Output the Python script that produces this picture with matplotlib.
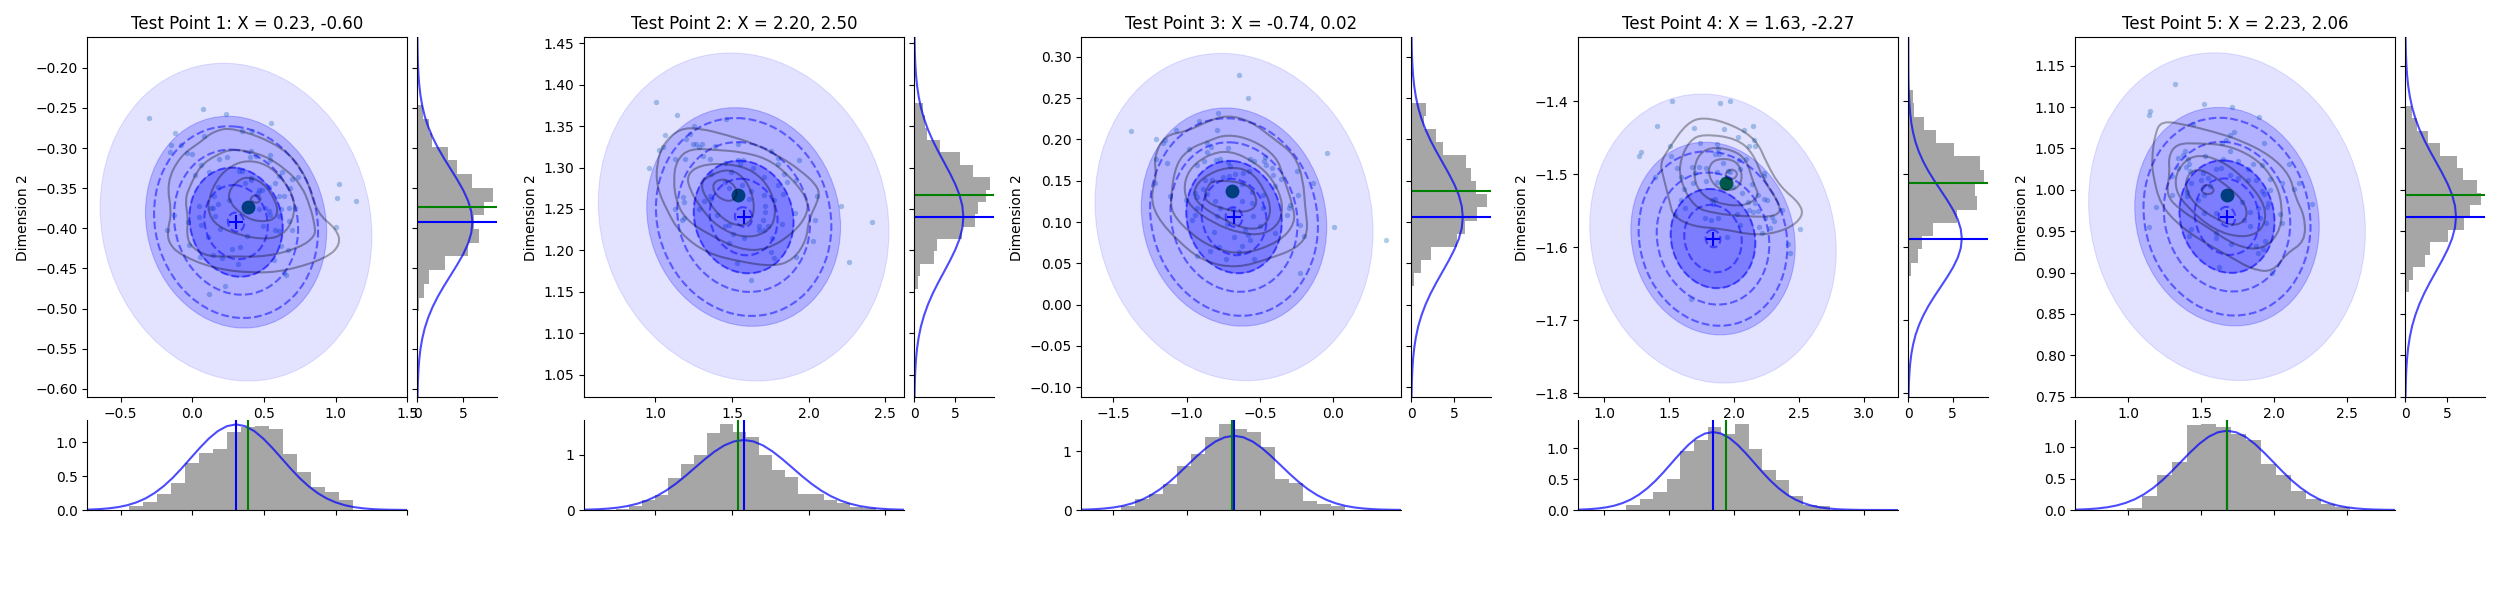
import numpy as np
import matplotlib
matplotlib.use("Agg")
import matplotlib.pyplot as plt
from matplotlib.patches import Ellipse, PathPatch
from matplotlib.path import Path

titles = ["Test Point 1: X = 0.23, -0.60", "Test Point 2: X = 2.20, 2.50",
          "Test Point 3: X = -0.74, 0.02", "Test Point 4: X = 1.63, -2.27",
          "Test Point 5: X = 2.23, 2.06"]

# predicted mean and true value per panel
pred_x = [0.305, 1.576, -0.677, 1.836, 1.676]
pred_y = [-0.3923, 1.2403, 0.106, -1.588, 0.9675]
true_x = [0.391, 1.541, -0.693, 1.933, 1.6735]
true_y = [-0.3732, 1.2665, 0.137, -1.5119, 0.9933]

# spread
sigma_x = 0.316
sigma_y = 0.066
corr = -0.09
filled_levels = [3, 2, 1.03]
filled_alpha = [0.11, 0.22, 0.29]
dashed_levels = [0.18, 0.70, 1.03, 1.37, 1.81]

# axis limits per panel
main_xlim = [(-0.7326, 1.5), (0.537, 2.624), (-1.718, 0.4636), (0.80, 3.2615), (0.637, 2.829)]
main_ylim = [(-0.6106, -0.162), (1.0226, 1.4572), (-0.1121, 0.3234), (-1.8055, -1.3123), (0.7492, 1.1842)]
side_xmax = [8.76, 9.84, 9.375, 9.02, 9.52]
under_ymax = [1.33, 1.627, 1.534, 1.46, 1.436]

# density curve: peak per panel and the bell profile
peak_under = [1.265, 1.265, 1.265, 1.265, 1.265]
peak_side = [6.03, 6.03, 6.03, 6.03, 6.03]
bell_z = [0, .2, .4, .6, .8, 1, 1.2, 1.4, 1.6, 1.8, 2, 2.2, 2.4, 2.6, 2.8, 3, 3.2, 3.4, 3.6, 3.8, 4, 4.5, 5.5]
bell_h = [1, .980, .923, .835, .726, .607, .487, .375, .278, .198, .135, .089, .056, .034, .020, .011,
          .006, .003, .0015, .0007, .0003, .00004, 0]

# histogram under each main panel: first edge, bar width, heights
under_start = [-0.442, 0.7435, -1.4477, 1.1667, 0.991]
under_width = [0.0977, 0.0848, 0.0955, 0.1048, 0.102]
under_h_1 = [.06, .12, .235, .40, .695, .84, .90, 1.15, 1.225, 1.24, 1.197, .83, .56, .34, .265, .148]
under_h_2 = [.015, .07, .18, .27, .58, .83, .99, 1.39, 1.55, 1.41, 1.32, .99, .72, .60, .29, .29, .18, .13, .06, .03]
under_h_3 = [.07, .19, .27, .44, .75, .955, 1.244, 1.466, 1.38, 1.33, 1.074, .53, .46, .153, .10, .07]
under_h_4 = [.08, .18, .29, .50, .957, 1.135, 1.346, 1.232, 1.395, .99, .65, .486, .227, .08, .065]
under_h_5 = [.03, .22, .56, .766, 1.356, 1.372, 1.324, 1.213, 1.117, .734, .56, .303, .176, .096, .05]
under_h = [under_h_1, under_h_2, under_h_3, under_h_4, under_h_5]

# histogram beside each main panel: top edge, bar height in y, lengths listed top to bottom
side_top = [-0.2469, 1.378, 0.244, -1.3845, 1.1013]
side_width = [0.0171, 0.01494, 0.0158, 0.0182, 0.015]
side_h_1 = [.6, 1.24, 1.64, 3.4, 4.3, 5.95, 8.25, 7.26, 6.2, 6.8, 5.5, 3.0, 1.3, .7, .2]
side_h_2 = [1.02, 1.27, 1.5, 3.1, 5.57, 7.17, 9.26, 8.77, 7.79, 7.42, 5.9, 2.75, 2.38, .66, .41, .12]
side_h_3 = [1.68, 1.45, 2.85, 3.67, 6.37, 6.95, 7.54, 8.83, 7.66, 6.25, 5.31, 2.27, 1.09, .27]
side_h_4 = [.49, .64, 1.73, 3.08, 5.11, 8.05, 8.5, 7.48, 7.7, 5.45, 2.74, 1.5, 1.05, .26, 0, .11]
side_h_5 = [.75, 1.35, 2.66, 4.09, 6.11, 6.83, 8.49, 8.97, 7.66, 6.94, 5.04, 2.9, 2.3, .87, .4]
side_h = [side_h_1, side_h_2, side_h_3, side_h_4, side_h_5]

points_1 = [(-.30, -.2623), (.077, -.2511), (.237, -.2573), (.551, -.2685), (-.119, -.281), (.079, -.2847),
            (.344, -.2793), (.419, -.2793), (-.147, -.296), (-.077, -.2964), (-.153, -.3047), (-.035, -.3059),
            (0, -.3072), (.184, -.313), (.24, -.311), (.407, -.3034), (.444, -.31), (.402, -.311), (.544, -.3084),
            (.542, -.3146), (.063, -.3209), (.021, -.3333), (.119, -.33), (.323, -.3283), (.344, -.3288),
            (.623, -.3296), (.607, -.3342), (.698, -.3383), (.735, -.3358), (.412, -.3375), (.412, -.3396),
            (.579, -.3433), (.37, -.3441), (.179, -.3479), (.467, -.3524), (.537, -.3483), (.681, -.35),
            (1.026, -.3445), (1.012, -.362), (1.144, -.3657), (.253, -.3645), (.46, -.3558), (.484, -.3524),
            (.607, -.36), (.642, -.36), (.151, -.36), (.181, -.3695), (.049, -.372), (.128, -.3745), (.147, -.3745),
            (.509, -.3745), (.467, -.3757), (.533, -.379), (.616, -.3757), (.677, -.3745), (.714, -.3745),
            (-.13, -.384), (.049, -.3857), (.16, -.3844), (.542, -.3828), (.607, -.3848), (.677, -.3907),
            (-.033, -.3919), (.063, -.3956), (.495, -.3965), (-.174, -.4019), (.193, -.4006), (.579, -.4019),
            (.607, -.4031), (.698, -.4019), (1.005, -.3985), (.112, -.4106), (.384, -.4094), (-.021, -.4206),
            (.335, -.4231), (.279, -.4255), (.621, -.4218), (.67, -.4268), (.147, -.433), (.056, -.4355),
            (.209, -.4368), (.572, -.4392), (.321, -.4442), (.656, -.4579), (.64, -.4555), (.23, -.4717), (.119, -.4816)]
points_2 = [(1.007, 1.379), (1.143, 1.364), (1.463, 1.359), (1.254, 1.35), (1.228, 1.340), (1.065, 1.339),
            (1.202, 1.334), (1.248, 1.329), (1.267, 1.328), (1.307, 1.329), (1.287, 1.325), (1.391, 1.326),
            (1.541, 1.329), (1.052, 1.325), (1.026, 1.321), (1.757, 1.320), (1.313, 1.314), (1.13, 1.31),
            (1.196, 1.31), (1.359, 1.31), (1.802, 1.3116), (1.939, 1.309), (.961, 1.299), (1.457, 1.306),
            (1.541, 1.309), (1.574, 1.309), (1.554, 1.304), (1.802, 1.304), (1.841, 1.292), (1.639, 1.299),
            (1.496, 1.295), (1.365, 1.292), (1.92, 1.285), (1.861, 1.282), (1.711, 1.289), (1.457, 1.282),
            (1.802, 1.2786), (1.483, 1.275), (1.567, 1.2786), (1.626, 1.2713), (1.835, 1.2677), (1.711, 1.2665),
            (2.057, 1.2653), (1.183, 1.265), (1.189, 1.259), (1.359, 1.2653), (1.361, 1.2617), (1.774, 1.2613),
            (1.613, 1.2617), (2.213, 1.2532), (1.13, 1.2496), (1.287, 1.2496), (1.717, 1.2532), (1.717, 1.246),
            (1.913, 1.2448), (1.32, 1.2593), (1.176, 1.2367), (1.189, 1.2387), (1.4, 1.2424), (1.704, 1.2363),
            (2.043, 1.2363), (2.415, 1.2339), (1.678, 1.2291), (1.457, 1.2291), (1.483, 1.2303), (1.737, 1.2291),
            (1.828, 1.2315), (1.678, 1.2242), (1.711, 1.2242), (1.509, 1.2194), (1.58, 1.2146), (1.763, 1.2146),
            (2.03, 1.211), (1.483, 1.2086), (1.757, 1.1977), (1.776, 1.1904), (1.92, 1.1917), (1.535, 1.1844),
            (2.265, 1.1856), (1.626, 1.1639)]
points_3 = [(-.641, .2774), (-.58, .2496), (-.784, .2315), (-1.377, .2097), (-.914, .2218), (-1.07, .2109),
            (-.791, .2109), (-1.207, .2), (-1.145, .1988), (-1.159, .1952), (-.859, .1952), (-.832, .1903),
            (-.982, .1879), (-.716, .1891), (-.859, .1843), (-.041, .1831), (-.464, .1782), (-1.207, .1758),
            (-1.132, .171), (-.798, .1746), (-.77, .1758), (-.927, .1685), (-.88, .1734), (-.716, .1722),
            (-.702, .1673), (-.566, .1758), (-.539, .1734), (-.47, .1734), (-.457, .1685), (-.416, .1649),
            (-.245, .1613), (-.409, .1565), (-.614, .1589), (-.573, .1613), (-.668, .1577), (-.75, .154),
            (-.709, .1552), (-.355, .1516), (-.873, .1504), (-.825, .1504), (-.62, .1456), (-1.214, .1468),
            (-.136, .1468), (-.395, .1431), (-.886, .1395), (-.552, .1359), (-.239, .1323), (-1.111, .1311),
            (-.941, .1347), (-.927, .1298), (-.859, .1335), (-.477, .1323), (-1.002, .1262), (-.805, .125),
            (-.62, .125), (-.552, .1226), (-.293, .1202), (-.3, .1165), (-.927, .1165), (-.77, .1165),
            (-.682, .1153), (-.477, .1165), (-.941, .1081), (-.791, .1069), (-.545, .1069), (-.314, .1081),
            (-.961, .102), (-.723, .0972), (-.498, .0948), (-.225, .096), (.007, .0935), (-.6, .0899),
            (-.811, .0875), (-.579, .0839), (-.395, .0863), (-.198, .0827), (-.675, .0815), (-.566, .0778),
            (.361, .0778), (-.62, .0706), (-.777, .0694), (-.839, .0645), (-.641, .0633), (-.927, .0585),
            (-.73, .0548), (-.539, .0548), (-.225, .0379)]
points_4 = [(1.523, -1.4), (1.892, -1.4027), (1.969, -1.4), (1.408, -1.4342), (1.692, -1.437), (1.923, -1.4384),
            (2.077, -1.4397), (2.146, -1.4342), (2.031, -1.4493), (2.154, -1.4534), (1.738, -1.4575), (1.869, -1.4589),
            (1.508, -1.4616), (2.115, -1.4616), (2.162, -1.4616), (1.877, -1.4658), (1.285, -1.4699), (1.269, -1.4753),
            (1.515, -1.4753), (1.854, -1.4726), (1.885, -1.4726), (1.915, -1.4849), (2.038, -1.4808), (2.092, -1.4795),
            (1.562, -1.4918), (1.677, -1.4904), (1.731, -1.4904), (1.785, -1.4918), (2.046, -1.4932), (1.869, -1.4973),
            (1.954, -1.4959), (1.969, -1.4973), (1.697, -1.4986), (2.231, -1.4986), (2.231, -1.5027), (1.392, -1.5041),
            (1.592, -1.5041), (1.785, -1.5096), (1.685, -1.5123), (1.869, -1.511), (1.954, -1.5123), (1.992, -1.5169),
            (2.138, -1.5137), (1.615, -1.5205), (2.062, -1.526), (2.185, -1.5288), (2.231, -1.5342), (2.254, -1.5356),
            (1.831, -1.5356), (1.854, -1.5342), (1.592, -1.5356), (2.108, -1.5384), (2.162, -1.5397), (1.623, -1.5466),
            (1.838, -1.5411), (2.115, -1.5493), (2.146, -1.5521), (2.185, -1.5507), (2.369, -1.5493), (1.546, -1.5562),
            (2.023, -1.5548), (1.777, -1.5603), (1.823, -1.563), (1.877, -1.5603), (2.238, -1.5603), (2.292, -1.5589),
            (2.308, -1.5644), (2.046, -1.5699), (2.192, -1.5726), (2.277, -1.574), (2.215, -1.5808), (2.508, -1.5753),
            (1.946, -1.5863), (2.415, -1.5959), (2.431, -1.6082), (1.669, -1.6712)]
points_5 = [(1.322, 1.1274), (1.521, 1.1033), (1.712, 1.0996), (1.897, 1.0876), (1.151, 1.0948), (1.144, 1.09),
            (1.445, 1.0791), (1.726, 1.0694), (1.699, 1.0658), (1.671, 1.0598), (1.644, 1.0561), (1.932, 1.0561),
            (1.39, 1.0465), (1.699, 1.0465), (1.377, 1.0416), (1.342, 1.038), (1.527, 1.0404), (1.411, 1.0368),
            (1.418, 1.0308), (1.397, 1.0271), (1.651, 1.0368), (1.753, 1.0344), (1.856, 1.0308), (1.918, 1.0296),
            (2.103, 1.0308), (1.342, 1.0259), (1.425, 1.0223), (1.603, 1.0247), (1.637, 1.0259), (1.822, 1.0247),
            (1.514, 1.0199), (1.548, 1.0138), (1.299, 1.0163), (1.699, 1.0175), (1.753, 1.0138), (1.822, 1.0114),
            (1.877, 1.0114), (1.973, 1.0126), (2.055, 1.0078), (2.171, 1.0078), (1.432, 1.0078), (1.5, 1.0114),
            (1.562, 1.0042), (2.137, 1.0006), (1.918, .9981), (1.973, .9993), (1.404, .9969), (1.301, .9933),
            (1.521, .9933), (1.404, .9921), (1.932, .9945), (1.959, .9836), (1.781, .9848), (2.26, .9824),
            (1.192, .9788), (1.89, .9776), (1.952, .9788), (1.479, .9873), (1.836, .9728), (1.521, .9716),
            (1.603, .9716), (1.904, .9655), (2.041, .9703), (1.79, .9631), (2.055, .9595), (1.945, .9595),
            (1.836, .9558), (1.144, .9546), (1.432, .9522), (1.603, .9474), (1.603, .9413), (1.418, .9438),
            (1.938, .9377), (1.705, .9341), (1.877, .9317), (1.925, .928), (1.89, .9232), (1.623, .9063), (1.986, .899)]
points = [points_1, points_2, points_3, points_4, points_5]

contours_1 = [
    [(.286, -.274), (.635, -.298), (.798, -.335), (.867, -.381), (1.007, -.401), (1.035, -.420), (.937, -.437),
     (.658, -.453), (.426, -.456), (.147, -.450), (-.086, -.433), (-.167, -.418), (-.172, -.401), (-.144, -.381),
     (-.179, -.343), (-.086, -.310), (.053, -.293), (.147, -.279)],
    [(.286, -.3005), (.495, -.308), (.658, -.327), (.763, -.347), (.821, -.372), (.856, -.397), (.856, -.410),
     (.751, -.424), (.519, -.4355), (.263, -.435), (.10, -.435), (-.016, -.422), (-.04, -.406), (-.028, -.389),
     (-.051, -.364), (-.016, -.347), (.053, -.3225), (.17, -.308)],
    [(.379, -.315), (.519, -.320), (.635, -.339), (.716, -.364), (.705, -.389), (.635, -.408), (.519, -.414),
     (.333, -.409), (.17, -.397), (.112, -.381), (.112, -.364), (.17, -.339), (.263, -.3225)],
    [(.379, -.335), (.495, -.343), (.577, -.364), (.60, -.381), (.553, -.391), (.426, -.391), (.333, -.381),
     (.263, -.368), (.251, -.356), (.298, -.343)],
    [(.402, -.363), (.437, -.358), (.484, -.362), (.46, -.369), (.414, -.3666)],
]
contours_2 = [
    [(1.161, 1.3474), (1.291, 1.3474), (1.465, 1.3393), (1.639, 1.3293), (1.813, 1.3132), (1.943, 1.2971),
     (2.052, 1.279), (2.074, 1.2649), (1.998, 1.2367), (1.987, 1.2126), (1.9, 1.1884), (1.77, 1.1804),
     (1.552, 1.1864), (1.335, 1.1965), (1.161, 1.2206), (1.074, 1.2488), (1.009, 1.277), (1.009, 1.3051), (1.052, 1.3293)],
    [(1.226, 1.3232), (1.4, 1.3212), (1.552, 1.3192), (1.726, 1.3112), (1.857, 1.2931), (1.987, 1.2649),
     (1.998, 1.2448), (1.9, 1.2206), (1.726, 1.2005), (1.552, 1.2005), (1.335, 1.2206), (1.204, 1.2367),
     (1.139, 1.2568), (1.117, 1.285), (1.139, 1.3092)],
    [(1.291, 1.3031), (1.465, 1.3051), (1.639, 1.2971), (1.759, 1.2729), (1.791, 1.2407), (1.726, 1.2206),
     (1.574, 1.2146), (1.4, 1.2287), (1.291, 1.2528), (1.226, 1.2729), (1.204, 1.291)],
    [(1.357, 1.291), (1.487, 1.2991), (1.596, 1.285), (1.65, 1.2568), (1.628, 1.2347), (1.552, 1.2287),
     (1.443, 1.2367), (1.335, 1.2609), (1.291, 1.281)],
    [(1.378, 1.283), (1.465, 1.287), (1.541, 1.2729), (1.509, 1.2589), (1.433, 1.2609), (1.378, 1.2709)],
]
contours_3 = [
    [(-.727, .2294), (-.568, .2226), (-.409, .2012), (-.261, .181), (-.205, .1508), (-.193, .1185), (-.17, .0863),
     (-.25, .0681), (-.432, .056), (-.659, .044), (-.886, .052), (-1.068, .0782), (-1.205, .1065), (-1.245, .1306),
     (-1.205, .1548), (-1.223, .179), (-1.148, .2052), (-1, .2093), (-.864, .2214)],
    [(-.727, .2065), (-.545, .1992), (-.386, .179), (-.341, .1548), (-.273, .1185), (-.261, .0984), (-.364, .0762),
     (-.614, .0601), (-.818, .0681), (-.977, .0863), (-1.102, .1105), (-1.109, .1306), (-1.073, .171), (-.977, .1891),
     (-.864, .1972)],
    [(-.705, .1871), (-.523, .171), (-.409, .1508), (-.341, .1226), (-.364, .0984), (-.477, .0843), (-.636, .0863),
     (-.818, .0984), (-.977, .1185), (-1.023, .1387), (-.989, .1629), (-.864, .181)],
    [(-.727, .1669), (-.568, .1629), (-.466, .1387), (-.42, .1145), (-.466, .0944), (-.58, .0903), (-.75, .1024),
     (-.932, .1226), (-.955, .1387), (-.886, .1548)],
    [(-.818, .1508), (-.58, .1476), (-.505, .1226), (-.591, .1105), (-.773, .1165), (-.886, .1266), (-.859, .1427)],
]
contours_4 = [
    [(1.762, -1.421), (1.992, -1.4324), (2.172, -1.453), (2.249, -1.4849), (2.351, -1.5169), (2.505, -1.5397),
     (2.531, -1.558), (2.403, -1.5763), (2.172, -1.5845), (1.89, -1.574), (1.685, -1.5717), (1.531, -1.558),
     (1.505, -1.5397), (1.454, -1.5032), (1.428, -1.4849), (1.505, -1.4621), (1.633, -1.4301)],
    [(1.762, -1.4447), (2.018, -1.4507), (2.146, -1.4712), (2.223, -1.5078), (2.364, -1.5443), (2.326, -1.558),
     (2.095, -1.558), (1.838, -1.5534), (1.685, -1.5443), (1.582, -1.5078), (1.582, -1.4804), (1.659, -1.453)],
    [(1.813, -1.4621), (1.992, -1.4667), (2.095, -1.4804), (2.146, -1.5123), (2.197, -1.5306), (2.069, -1.5443),
     (1.864, -1.5397), (1.736, -1.526), (1.685, -1.5032), (1.71, -1.4758)],
    [(1.864, -1.4781), (2.018, -1.4804), (2.069, -1.5032), (2.018, -1.5215), (1.89, -1.5215), (1.813, -1.5078),
     (1.8, -1.4895)],
    [(1.928, -1.4986), (1.979, -1.4918), (2.031, -1.4986), (1.992, -1.5078), (1.941, -1.5055)],
]
contours_5 = [
    [(1.228, 1.0835), (1.4, 1.0783), (1.582, 1.0702), (1.765, 1.0602), (1.97, 1.042), (2.107, 1.0179), (2.142, .9917),
     (2.21, .9675), (2.21, .9373), (2.084, .9232), (1.993, .901), (1.856, .9031), (1.696, .9192), (1.491, .9393),
     (1.331, .9595), (1.217, .9836), (1.171, 1.0159), (1.16, 1.036), (1.183, 1.0682)],
    [(1.331, 1.0561), (1.491, 1.0561), (1.674, 1.0541), (1.856, 1.04), (1.97, 1.0199), (2.05, .9917), (2.05, .9514),
     (1.925, .9272), (1.742, .9313), (1.537, .9554), (1.354, .9756), (1.258, .9937), (1.285, 1.0199), (1.274, 1.04)],
    [(1.445, 1.0433), (1.628, 1.0368), (1.811, 1.0118), (1.947, .9796), (1.925, .9514), (1.788, .9413), (1.582, .9514),
     (1.4, .9796), (1.32, .9997), (1.331, 1.0239)],
    [(1.491, 1.0259), (1.628, 1.0118), (1.788, .9877), (1.822, .9675), (1.742, .9554), (1.605, .9635), (1.445, .9836),
     (1.388, 1.0038), (1.411, 1.0199)],
    [(1.502, 1.0038), (1.548, 1.007), (1.594, .9997), (1.559, .9937), (1.502, .9965)],
]
contours = [contours_1, contours_2, contours_3, contours_4, contours_5]

# panel placement in figure pixels
FIG_W, FIG_H = 2500, 600
panel_left = [87.33, 584.33, 1081.33, 1578.33, 2075.33]


def axes_px(fig, x0, y0, w, h, **kw):
    return fig.add_axes([x0 / FIG_W, 1 - (y0 + h) / FIG_H, w / FIG_W, h / FIG_H], **kw)


def smooth_ring(vertices):
    # a closed quadratic path with the read vertices as its control points
    pts = np.asarray(vertices, dtype=float)
    nxt = np.roll(pts, -1, axis=0)
    mid = (pts + nxt) / 2
    verts = [mid[-1]]
    codes = [Path.MOVETO]
    for p, m in zip(pts, mid):
        verts += [p, m]
        codes += [Path.CURVE3, Path.CURVE3]
    return Path(verts, codes)


fig = plt.figure(figsize=(25, 6), dpi=100)
cov = np.array([[sigma_x ** 2, corr * sigma_x * sigma_y], [corr * sigma_x * sigma_y, sigma_y ** 2]])
vals, vecs = np.linalg.eigh(cov)
angle = np.degrees(np.arctan2(vecs[1, 1], vecs[0, 1]))
z_all = np.array([-v for v in bell_z[:0:-1]] + bell_z)
h_all = np.array(bell_h[:0:-1] + bell_h)

for i in range(5):
    ax = axes_px(fig, panel_left[i], 37.33, 320, 360)
    side = axes_px(fig, panel_left[i] + 330, 37.33, 80, 360, sharey=ax)
    under = axes_px(fig, panel_left[i], 420, 320, 90, sharex=ax)

    px, py = zip(*points[i])
    ax.scatter(px, py, s=15, color="tab:blue", alpha=0.35, linewidths=0, zorder=1)
    ax.scatter([true_x[i]], [true_y[i]], s=100, color="green", linewidths=0, zorder=3)
    centre = (pred_x[i], pred_y[i])
    for n, a in zip(filled_levels, filled_alpha):
        ax.add_patch(Ellipse(centre, 2 * n * np.sqrt(vals[1]), 2 * n * np.sqrt(vals[0]), angle=angle,
                             facecolor="blue", edgecolor="blue", alpha=a, lw=0.8, zorder=4))
    for n in dashed_levels:
        ax.add_patch(Ellipse(centre, 2 * n * np.sqrt(vals[1]), 2 * n * np.sqrt(vals[0]), angle=angle,
                             fill=False, edgecolor="blue", alpha=0.5, lw=1.5, linestyle="--", zorder=5))
    for ring in contours[i]:
        ax.add_patch(PathPatch(smooth_ring(ring), fill=False, edgecolor="black", lw=1.5, alpha=0.33, zorder=6))
    ax.plot([pred_x[i]], [pred_y[i]], marker="+", color="blue", ms=10, mew=1.5, zorder=7)
    ax.set_xlim(*main_xlim[i])
    ax.set_ylim(*main_ylim[i])
    ax.set_title(titles[i], fontsize=12)
    ax.set_ylabel("Dimension 2")

    under.bar(under_start[i] + under_width[i] * np.arange(len(under_h[i])), under_h[i], width=under_width[i],
              align="edge", color="gray", alpha=0.7, linewidth=0)
    under.plot(pred_x[i] + sigma_x * z_all, peak_under[i] * h_all, color="blue", alpha=0.7, lw=1.5)
    under.axvline(pred_x[i], color="blue", lw=1.5)
    under.axvline(true_x[i], color="green", lw=1.5)
    under.set_ylim(0, under_ymax[i])
    under.tick_params(labelbottom=False)
    under.spines["top"].set_visible(False)
    under.spines["right"].set_visible(False)

    side.barh(side_top[i] - side_width[i] * (np.arange(len(side_h[i])) + 1), side_h[i], height=side_width[i],
              align="edge", color="gray", alpha=0.7, linewidth=0)
    side.plot(peak_side[i] * h_all, pred_y[i] + sigma_y * z_all, color="blue", alpha=0.7, lw=1.5)
    side.axhline(pred_y[i], color="blue", lw=1.5)
    side.axhline(true_y[i], color="green", lw=1.5)
    side.set_xlim(0, side_xmax[i])
    side.tick_params(labelleft=False)
    side.spines["top"].set_visible(False)
    side.spines["right"].set_visible(False)

fig.savefig("out.png", dpi=100)
